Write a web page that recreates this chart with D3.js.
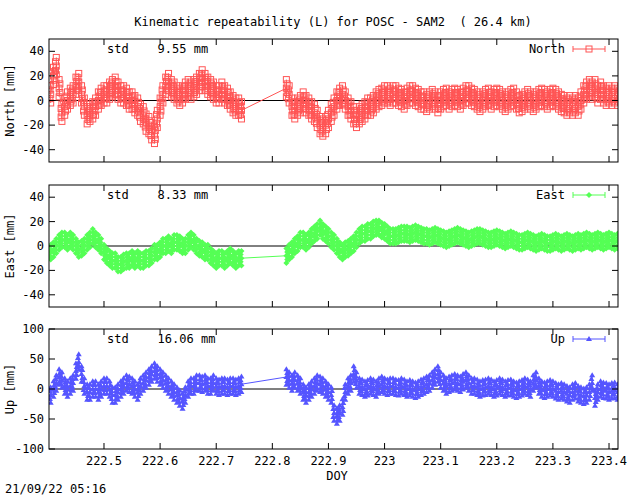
<!DOCTYPE html>
<html><head><meta charset="utf-8">
<script src="https://cdn.jsdelivr.net/npm/d3@7"></script>
<style>body{margin:0;background:#fff}text{font-family:"DejaVu Sans Mono",monospace;font-size:12px;white-space:pre}</style>
</head><body><svg id="c" width="640" height="496"></svg>
<script>
const seg1Start = 222.405, seg2Start = 222.825, step = 0.005;
const xTicks = [222.5,222.6,222.7,222.8,222.9,223,223.1,223.2,223.3,223.4];
const northTicks = [-40,-20,0,20,40], eastTicks = [-40,-20,0,20,40], upTicks = [-100,-50,0,50,100];
const north1 = [5,20,28,10,-10,-5,0,3,5,12,15,5,-5,-12,-10,-8,-5,0,3,5,5,8,10,12,8,5,5,3,0,0,-3,-5,-10,-12,-18,-20,-25,-28,-15,-5,5,12,15,10,8,5,3,5,8,10,8,10,12,15,18,15,12,10,8,5,5,8,5,3,0,-3,-5,-5,-8];
const north2 = [10,5,-5,-8,-5,-3,0,-3,-5,-8,-10,-15,-20,-22,-20,-15,-10,-5,0,3,5,0,-5,-8,-12,-15,-12,-10,-8,-5,-5,-3,0,2,3,5,5,3,5,5,3,2,0,3,5,5,3,2,0,0,-2,0,2,0,-3,0,2,3,0,2,3,2,0,3,5,5,3,2,0,-2,0,2,3,0,2,3,2,0,-2,0,2,3,0,-3,-2,0,2,0,-2,0,2,3,2,0,2,3,2,0,-2,-3,-5,-3,-5,-3,-5,0,5,8,10,8,10,5,8,5,3,5,3,5,3];
const east1 = [-5,-3,0,3,5,5,3,5,3,0,-3,-2,0,3,5,8,5,3,0,-5,-8,-10,-12,-12,-15,-15,-13,-12,-12,-10,-12,-10,-12,-12,-10,-10,-8,-5,-5,-3,0,0,2,0,3,3,2,0,0,3,5,3,0,-2,-3,-5,-5,-8,-10,-12,-10,-10,-12,-10,-8,-10,-12,-10,-10];
const east2 = [-8,-5,-3,0,2,5,5,3,5,8,10,12,15,12,10,8,5,3,0,-3,-5,-3,-2,0,2,5,8,10,10,12,12,14,15,15,13,12,10,8,8,8,9,10,10,10,9,10,11,10,9,8,8,7,8,9,8,7,6,5,6,7,8,9,8,7,6,5,6,7,8,8,7,6,5,5,6,7,6,5,4,5,6,5,4,3,3,4,5,4,3,2,3,4,3,2,2,3,4,3,2,3,4,3,2,3,4,3,4,5,4,3,4,5,4,3,4,5,4,3,4];
const up1 = [-10,0,10,20,15,5,0,5,10,30,45,25,5,-5,-5,0,0,-5,0,5,5,0,-10,-10,-5,0,5,10,8,5,0,-5,5,10,15,20,25,30,25,20,15,10,5,0,-5,-10,-15,-20,-10,0,5,5,10,10,8,10,5,5,10,5,3,5,5,3,5,5,3,5,8];
const up2 = [20,15,10,15,10,5,-5,-10,-5,0,5,10,8,5,0,-5,-10,-40,-45,-40,-30,-5,5,10,25,15,5,3,0,2,5,3,0,5,8,5,3,5,5,3,2,5,3,0,2,0,-2,0,3,5,8,10,15,20,25,15,10,5,8,10,12,10,8,12,15,10,5,5,3,0,2,3,5,3,0,2,5,3,0,2,3,0,-2,0,2,5,3,0,10,15,5,0,-2,0,2,0,-3,-5,-3,-5,-8,-10,-5,-3,-8,-10,-12,-10,-5,10,-15,-5,0,-2,-3,-5,-3,-2,-5];

const panels = [
 {name:"North", ylab:"North [mm]", std:"std    9.55 mm", s1:north1, s2:north2, dom:[-50,50], ticks:northTicks, top:39, bot:162, color:"#ff5555", band:7, sym:"square"},
 {name:"East", ylab:"East [mm]", std:"std    8.33 mm", s1:east1, s2:east2, dom:[-50,50], ticks:eastTicks, top:185, bot:307, color:"#55ff55", band:6, sym:"diamond"},
 {name:"Up", ylab:"Up [mm]", std:"std    16.06 mm", s1:up1, s2:up2, dom:[-100,100], ticks:upTicks, top:329, bot:449, color:"#5555ff", band:13, sym:"triangle"}
];
const L=49, R=618;
const svg = d3.select("#c");
const x = d3.scaleLinear().domain([222.402,223.416]).range([L,R]);
svg.append("text").attr("x",333).attr("y",26).attr("text-anchor","middle").text("Kinematic repeatability (L) for POSC - SAM2  ( 26.4 km)");

function marker(g, sym, cx, cy, color){
  if(sym==="square") g.append("rect").attr("x",cx-3).attr("y",cy-3).attr("width",6).attr("height",6).attr("fill","none").attr("stroke",color).attr("stroke-width",1);
  else if(sym==="diamond") g.append("path").attr("d",`M${cx},${cy-3}L${cx+3},${cy}L${cx},${cy+3}L${cx-3},${cy}Z`).attr("fill",color);
  else g.append("path").attr("d",`M${cx},${cy-3}L${cx+3},${cy+2}L${cx-3},${cy+2}Z`).attr("fill",color);
}

panels.forEach((p,pi)=>{
  const y = d3.scaleLinear().domain(p.dom).range([p.bot,p.top]);
  const g = svg.append("g");
  const clip = "clip"+pi;
  svg.append("clipPath").attr("id",clip).append("rect").attr("x",L).attr("y",p.top).attr("width",R-L).attr("height",p.bot-p.top);
  const dg = g.append("g").attr("clip-path",`url(#${clip})`);
  dg.append("line").attr("x1",L).attr("x2",R).attr("y1",y(0)).attr("y2",y(0)).attr("stroke","#000");
  const pts = p.s1.map((v,i)=>[seg1Start+i*step,v]).concat(p.s2.map((v,i)=>[seg2Start+i*step,v]));
  dg.append("path").datum(pts).attr("d",d3.line().x(d=>x(d[0])).y(d=>y(d[1]))).attr("fill","none").attr("stroke",p.color).attr("stroke-width",1);
  pts.forEach((d,i)=>{
    const cx=x(d[0]);
    const off = [-1,-0.5,0,0.5,1];
    dg.append("line").attr("x1",cx).attr("x2",cx).attr("y1",y(d[1]-p.band)).attr("y2",y(d[1]+p.band)).attr("stroke",p.color);
    off.forEach((o,k)=>{
      const sh = (i%2? 1:-1)*(k%2? 0.8:0);
      marker(dg,p.sym,cx+sh,y(d[1]+o*p.band),p.color);
    });
  });
  g.append("rect").attr("x",L).attr("y",p.top).attr("width",R-L).attr("height",p.bot-p.top).attr("fill","none").attr("stroke","#000");
  p.ticks.forEach(t=>{
    g.append("line").attr("x1",L).attr("x2",L+6).attr("y1",y(t)).attr("y2",y(t)).attr("stroke","#000");
    g.append("line").attr("x1",R-6).attr("x2",R).attr("y1",y(t)).attr("y2",y(t)).attr("stroke","#000");
    g.append("text").attr("x",L-5).attr("y",y(t)+4).attr("text-anchor","end").text(t);
  });
  xTicks.forEach(t=>{
    g.append("line").attr("x1",x(t)).attr("x2",x(t)).attr("y1",p.bot).attr("y2",p.bot-6).attr("stroke","#000");
    g.append("line").attr("x1",x(t)).attr("x2",x(t)).attr("y1",p.top).attr("y2",p.top+6).attr("stroke","#000");
    if(pi===2) g.append("text").attr("x",x(t)).attr("y",p.bot+16).attr("text-anchor","middle").text(d3.format("")(t));
  });
  g.append("text").attr("x",107).attr("y",p.top+14).text(p.std);
  g.append("text").attr("transform",`translate(14,${(p.top+p.bot)/2}) rotate(-90)`).attr("text-anchor","middle").text(p.ylab);
  const ly = p.top+10;
  g.append("text").attr("x",565).attr("y",ly+4).attr("text-anchor","end").text(p.name);
  g.append("line").attr("x1",573).attr("x2",605).attr("y1",ly).attr("y2",ly).attr("stroke",p.color);
  g.append("line").attr("x1",573).attr("x2",573).attr("y1",ly-3).attr("y2",ly+3).attr("stroke",p.color);
  g.append("line").attr("x1",605).attr("x2",605).attr("y1",ly-3).attr("y2",ly+3).attr("stroke",p.color);
  marker(g,p.sym,589,ly,p.color);
});
svg.append("text").attr("x",337).attr("y",480).attr("text-anchor","middle").text("DOY");
svg.append("text").attr("x",5).attr("y",493).text("21/09/22 05:16");
</script></body></html>
